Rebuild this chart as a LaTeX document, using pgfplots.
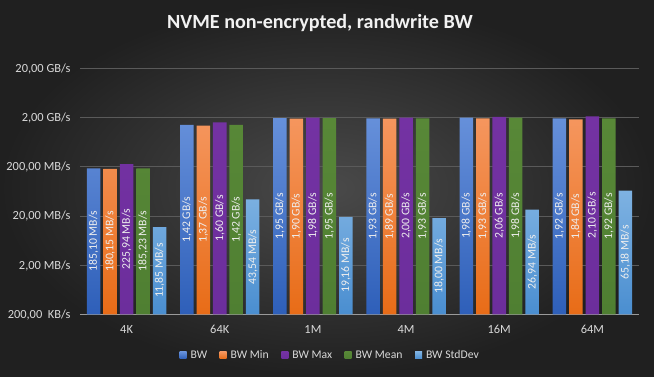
\documentclass[border=0pt]{standalone}
\usepackage{pgfplots}
\pgfplotsset{compat=1.18}
\usepackage{pgfplotstable}
\usepackage{fontspec}
\setmainfont{Carlito}
\definecolor{bgin}{HTML}{4A4A4A}
\definecolor{bgout}{HTML}{202020}
\definecolor{gridc}{HTML}{5A5A5A}
\definecolor{axc}{HTML}{9A9A9A}
\definecolor{tickc}{HTML}{D9D9D9}
\definecolor{labc}{HTML}{EEEEEE}
\definecolor{bwT}{HTML}{6690DA}\definecolor{bwB}{HTML}{2E5FB9}
\definecolor{minT}{HTML}{F5965E}\definecolor{minB}{HTML}{E86C17}
\definecolor{maxT}{HTML}{7432A3}\definecolor{maxB}{HTML}{6C2E9C}
\definecolor{meanT}{HTML}{588837}\definecolor{meanB}{HTML}{4F7F32}
\definecolor{sdT}{HTML}{7EB2E2}\definecolor{sdB}{HTML}{4A8ED0}

\pgfplotstableread[col sep=semicolon]{
x;v;l
0;185.10;185,10 MB/s
1;1420;1,42 GB/s
2;1950;1,95 GB/s
3;1930;1,93 GB/s
4;1980;1,98 GB/s
5;1920;1,92 GB/s
}\bwdata
\pgfplotstableread[col sep=semicolon]{
x;v;l
0;180.15;180,15 MB/s
1;1370;1,37 GB/s
2;1900;1,90 GB/s
3;1890;1,89 GB/s
4;1930;1,93 GB/s
5;1840;1,84 GB/s
}\mindata
\pgfplotstableread[col sep=semicolon]{
x;v;l
0;225.94;225,94 MB/s
1;1600;1,60 GB/s
2;1980;1,98 GB/s
3;2000;2,00 GB/s
4;2060;2,06 GB/s
5;2100;2,10 GB/s
}\maxdata
\pgfplotstableread[col sep=semicolon]{
x;v;l
0;185.23;185,23 MB/s
1;1420;1,42 GB/s
2;1950;1,95 GB/s
3;1930;1,93 GB/s
4;1980;1,98 GB/s
5;1920;1,92 GB/s
}\meandata
\pgfplotstableread[col sep=semicolon]{
x;v;l
0;11.85;11,85 MB/s
1;43.54;43,54 MB/s
2;19.16;19,16 MB/s
3;18.00;18,00 MB/s
4;26.94;26,94 MB/s
5;65.18;65,18 MB/s
}\sddata

\pgfplotsset{
  mybar/.style={ybar, bar width=0.145, draw=none,
    legend image code/.code={\fill[##1] (0pt,-3.5pt) rectangle (7pt,3.5pt);}},
}
\newcommand{\labs}[2]{%
  \addplot[draw=none, mark=none, forget plot, nodes near coords,
    point meta=explicit symbolic,
    nodes near coords style={rotate=90, anchor=center, inner sep=0pt,
      font=\fontsize{11.7}{14}\selectfont, text=labc}]
    table[x expr=\thisrow{x}+(#2), y expr={sqrt(\thisrow{v}*0.2)}, meta=l] {#1};}

\begin{document}
\begin{tikzpicture}
\shade[inner color=bgin, outer color=bgout] (0,0) rectangle (654pt,376pt);
\node[anchor=base, inner sep=0pt, font=\bfseries\fontsize{20.1}{24}\selectfont, text=black!85] at (321pt,346.7pt) {NVME non-encrypted, randwrite BW};
\node[anchor=base, inner sep=0pt, font=\bfseries\fontsize{20.1}{24}\selectfont, text=white!95!black] at (320pt,347.7pt) {NVME non-encrypted, randwrite BW};
\begin{axis}[
  at={(80pt,61.7pt)}, anchor=south west, scale only axis,
  width=559pt, height=246pt,
  xmin=-0.5, xmax=5.5,
  ymode=log, ymin=0.2, ymax=20000, log origin=infty,
  ytick={0.2,2,20,200,2000,20000},
  yticklabels={{200,00\ \ KB/s},{2,00 MB/s},{20,00 MB/s},{200,00 MB/s},{2,00 GB/s},{20,00 GB/s}},
  yminorticks=false,
  xtick={0,1,2,3,4,5},
  xticklabels={4K,64K,1M,4M,16M,64M},
  major tick length=0pt,
  ymajorgrids, grid style={gridc, line width=0.75pt},
  axis x line*=bottom, axis y line*=left,
  x axis line style={axc, line width=0.8pt},
  y axis line style={draw=none},
  tick label style={font=\fontsize{12.4}{14}\selectfont, text=tickc, inner sep=0pt},
  yticklabel style={anchor=base east, xshift=-9.3pt, yshift=-3.9pt},
  xticklabel style={anchor=base, yshift=-19pt},
  legend style={at={(0.4458,-0.1667)}, anchor=center, draw=none, fill=none,
    text=tickc, font=\fontsize{11.7}{14}\selectfont, legend columns=5,
    nodes={inner sep=0pt},
    /tikz/every odd column/.append style={column sep=4pt},
    /tikz/every even column/.append style={column sep=12.5pt}},
  clip=false,
]
\addplot[mybar, bar shift=-0.354, top color=bwT, bottom color=bwB] table[x=x, y=v] {\bwdata};
\addlegendentry{BW}
\addplot[mybar, bar shift=-0.177, top color=minT, bottom color=minB] table[x=x, y=v] {\mindata};
\addlegendentry{BW Min}
\addplot[mybar, bar shift=0, top color=maxT, bottom color=maxB] table[x=x, y=v] {\maxdata};
\addlegendentry{BW Max}
\addplot[mybar, bar shift=0.177, top color=meanT, bottom color=meanB] table[x=x, y=v] {\meandata};
\addlegendentry{BW Mean}
\addplot[mybar, bar shift=0.354, top color=sdT, bottom color=sdB] table[x=x, y=v] {\sddata};
\addlegendentry{BW StdDev}
\labs{\bwdata}{-0.354}
\labs{\mindata}{-0.177}
\labs{\maxdata}{0}
\labs{\meandata}{0.177}
\labs{\sddata}{0.354}
\end{axis}
\end{tikzpicture}
\end{document}
